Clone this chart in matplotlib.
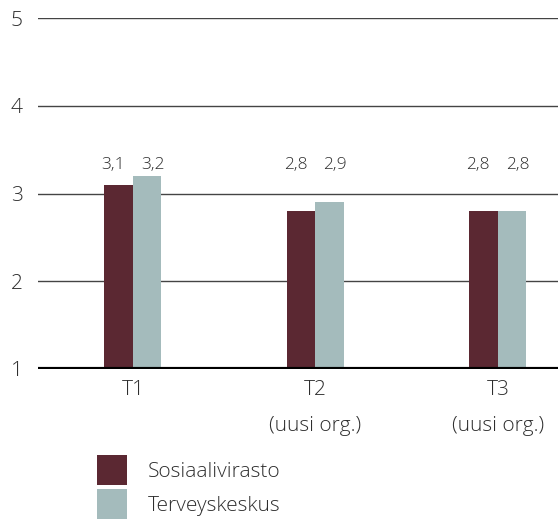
import matplotlib
matplotlib.use("Agg")
import matplotlib.pyplot as plt
import numpy as np

categories = ["T1", "T2\n(uusi org.)", "T3\n(uusi org.)"]
series_names = ["Sosiaalivirasto", "Terveyskeskus"]
sosiaalivirasto = [3.1, 2.8, 2.8]
terveyskeskus = [3.2, 2.9, 2.8]
labels_sos = ["3,1", "2,8", "2,8"]
labels_ter = ["3,2", "2,9", "2,8"]
yticks = [1, 2, 3, 4, 5]

plt.rcParams['font.family'] = ['Open Sans', 'DejaVu Sans']
TXT = "#2e2e2e"
C1 = "#5b2832"
C2 = "#a4bbbc"
FS = 15

fig = plt.figure(figsize=(5.58, 5.19), dpi=100)
ax = fig.add_axes([38/558, 1-369/519, 1-38/558, (369-18)/519])

x = np.arange(len(categories))
w = 0.156
ax.bar(x - w/2, np.array(sosiaalivirasto) - 1, w, bottom=1, color=C1, label=series_names[0], zorder=3)
ax.bar(x + w/2, np.array(terveyskeskus) - 1, w, bottom=1, color=C2, label=series_names[1], zorder=3)

for xi, a, b in zip(x, labels_sos, labels_ter):
    ax.text(xi - w/2 - 0.03, 3.32, a, ha="center", va="center", fontsize=12.5, color=TXT, fontweight="light")
    ax.text(xi + w/2 + 0.03, 3.32, b, ha="center", va="center", fontsize=12.5, color=TXT, fontweight="light")

ax.set_xlim(-0.52, 2.33)
ax.set_ylim(1, 5)
for yv in yticks[1:]:
    ax.axhline(yv, color="#444444", lw=1.0, zorder=1)
ax.axhline(1, color="black", lw=3, zorder=4)

for s in ax.spines.values():
    s.set_visible(False)
ax.set_yticks(yticks)
ax.set_yticklabels([str(v) for v in yticks], fontsize=FS, color=TXT, fontweight="light")
ax.tick_params(axis="y", length=0, pad=11)
ax.set_xticks(x)
ax.set_xticklabels(categories, fontsize=FS, color=TXT, linespacing=2.05, fontweight="light")
ax.tick_params(axis="x", length=0, pad=8)

leg = fig.legend(loc="upper left", bbox_to_anchor=(97/558, 1-455/519), frameon=False,
                 prop={"size": FS, "weight": "light"}, handlelength=1.42, handleheight=1.85,
                 labelspacing=0.2, handletextpad=1.0, borderpad=0, borderaxespad=0)
for t in leg.get_texts():
    t.set_color(TXT)

fig.savefig("out.png", dpi=100)
